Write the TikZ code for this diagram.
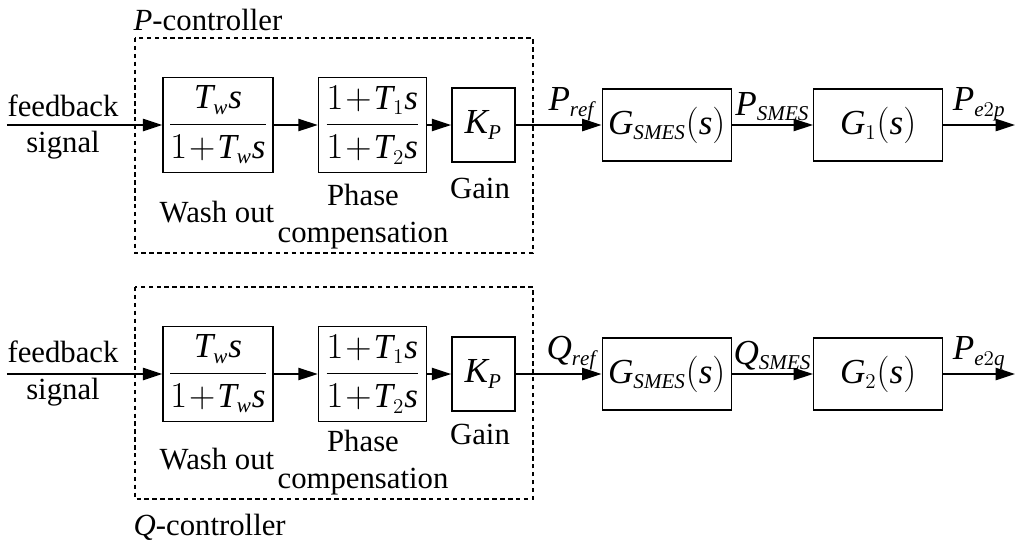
\documentclass[tikz,border=0pt]{standalone}
\usepackage{amsmath}
\usepackage{fontspec}
\setmainfont{Liberation Serif}
\usepackage[italic]{mathastext}
\DeclareMathSizes{20}{20}{12}{9}
\usetikzlibrary{arrows.meta,positioning}

\begin{document}
\begin{tikzpicture}[->,>={Triangle[length=11pt,width=7pt]},auto,line width=0.8pt,
                    block/.style={draw,rectangle,inner sep=0pt,font=\fontsize{20}{24}\selectfont},
                    txt/.style={font=\fontsize{17.5}{21}\selectfont,align=center},
                    sig/.style={font=\fontsize{20}{24}\selectfont,inner sep=2pt}]
\useasboundingbox (0,0) rectangle (20.48,-11.1);

% P-controller row
\coordinate (in1) at (0.14,-2.5);
\node[block,minimum width=2.2cm,minimum height=1.9cm] (wash1) at (4.36,-2.5) {$\displaystyle\frac{T_w s}{1\!+\!T_w s}$};
\node[block,minimum width=2.16cm,minimum height=1.9cm] (phase1) [right=0.88cm of wash1] {$\displaystyle\frac{1\!+\!T_1 s}{1\!+\!T_2 s}$};
\node[block,minimum width=1.26cm,minimum height=1.48cm] (gain1) [right=0.48cm of phase1] {$K_P$};
\node[block,minimum width=2.58cm,minimum height=1.44cm] (smes1) [right=1.72cm of gain1] {$G_{SMES}(s)$};
\node[block,minimum width=2.58cm,minimum height=1.44cm] (plant1) [right=1.62cm of smes1] {$G_1(s)$};
\coordinate (out1) at (20.3,-2.5);

\node[txt] (fb1) at (1.26,-2.54) {feedback\\signal};
\node[txt] (wo1) at (4.34,-4.24) {Wash out};
\node[txt] (pc1) at (7.26,-4.34) {Phase\\compensation};
\node[txt] (g1) at (9.6,-3.76) {Gain};
\node[txt,anchor=west,inner sep=0pt] (pctrl) at (2.66,-0.4) {\textit{P}-controller};
\draw[-,dash pattern=on 2.5pt off 2pt,line width=0.6pt] (2.7,-0.76) rectangle (10.66,-5.06);

\path
(in1) edge (wash1)
(wash1) edge (phase1)
(phase1) edge (gain1)
(gain1) edge node[sig,pos=0.65] {$P_{ref}$} (smes1)
(smes1) edge node[sig,pos=0.5] {$P_{SMES}$} (plant1)
(plant1) edge node[sig,pos=0.5] {$P_{e2p}$} (out1);

% Q-controller row
\coordinate (in2) at (0.14,-7.48);
\node[block,minimum width=2.2cm,minimum height=1.9cm] (wash2) at (4.36,-7.48) {$\displaystyle\frac{T_w s}{1\!+\!T_w s}$};
\node[block,minimum width=2.16cm,minimum height=1.9cm] (phase2) [right=0.88cm of wash2] {$\displaystyle\frac{1\!+\!T_1 s}{1\!+\!T_2 s}$};
\node[block,minimum width=1.26cm,minimum height=1.48cm] (gain2) [right=0.48cm of phase2] {$K_P$};
\node[block,minimum width=2.58cm,minimum height=1.44cm] (smes2) [right=1.72cm of gain2] {$G_{SMES}(s)$};
\node[block,minimum width=2.58cm,minimum height=1.44cm] (plant2) [right=1.62cm of smes2] {$G_2(s)$};
\coordinate (out2) at (20.3,-7.48);

\node[txt] (fb2) at (1.26,-7.47) {feedback\\signal};
\node[txt] (wo2) at (4.34,-9.18) {Wash out};
\node[txt] (pc2) at (7.26,-9.26) {Phase\\compensation};
\node[txt] (g2) at (9.6,-8.68) {Gain};
\node[txt,anchor=west,inner sep=0pt] (qctrl) at (2.66,-10.54) {\textit{Q}-controller};
\draw[-,dash pattern=on 2.5pt off 2pt,line width=0.6pt] (2.7,-5.74) rectangle (10.66,-9.98);

\path
(in2) edge (wash2)
(wash2) edge (phase2)
(phase2) edge (gain2)
(gain2) edge node[sig,pos=0.65] {$Q_{ref}$} (smes2)
(smes2) edge node[sig,pos=0.5] {$Q_{SMES}$} (plant2)
(plant2) edge node[sig,pos=0.5] {$P_{e2q}$} (out2);
\end{tikzpicture}
\end{document}
